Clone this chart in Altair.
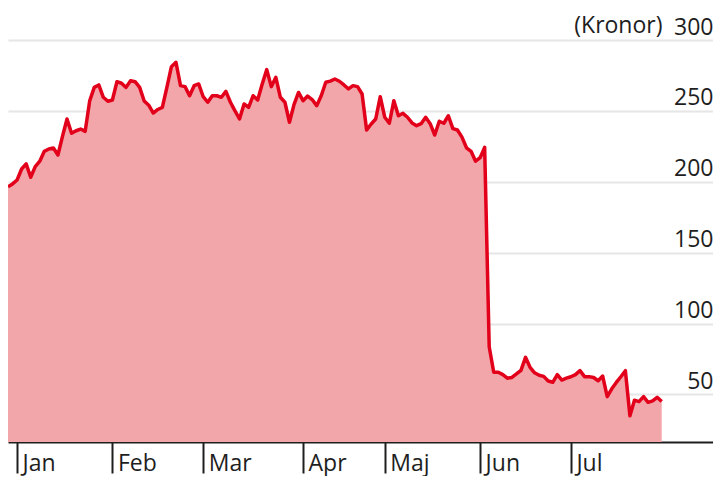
import altair as alt
import pandas as pd

# Trading-day index (0 = first trading day of January) and closing price (SEK)
trading_day = list(range(-2, 143))
price = [
    196.5, 198.5, 201.3, 209.0, 212.6, 203.2, 210.7, 214.5, 221.5, 223.1,
    223.8, 218.9, 232.0, 244.3, 234.2, 236.0, 237.2, 235.6, 257.2, 266.6,
    268.3, 259.6, 256.8, 257.7, 270.6, 269.5, 266.6, 271.3, 270.6, 266.6,
    257.0, 254.0, 248.5, 251.0, 252.5, 266.6, 281.2, 284.3, 267.8, 267.1,
    260.7, 267.8, 269.0, 260.0, 256.1, 260.7, 260.7, 259.6, 263.8, 256.1,
    250.0, 244.3, 254.9, 252.5, 260.7, 257.7, 269.0, 279.1, 267.1, 273.7,
    259.6, 256.1, 242.0, 254.4, 263.0, 257.2, 260.5, 258.0, 253.7, 260.7,
    270.2, 271.0, 272.5, 270.9, 268.3, 265.5, 267.8, 267.1, 261.9, 236.5,
    240.8, 244.3, 260.0, 245.5, 241.3, 257.2, 246.6, 248.3, 245.5, 241.5,
    239.6, 241.0, 245.5, 241.0, 233.0, 242.7, 241.3, 246.6, 237.5, 236.5,
    231.5, 224.0, 221.5, 214.5, 217.0, 224.3, 83.7, 65.7, 65.7, 64.0,
    61.5, 62.0, 64.5, 67.0, 76.2, 69.2, 65.3, 63.6, 62.8, 59.5,
    58.6, 64.0, 60.2, 61.5, 62.5, 64.0, 66.8, 62.6, 62.6, 62.0,
    59.7, 63.0, 48.5, 54.0, 58.5, 62.5, 66.8, 35.0, 46.0, 45.0,
    48.5, 44.5, 45.5, 48.0, 45.0,
]

month_names = ["Jan", "Feb", "Mar", "Apr", "Maj", "Jun", "Jul"]
month_start_day = [0, 21, 41, 63, 81, 102, 122]
y_ticks = [50, 100, 150, 200, 250, 300]

df = pd.DataFrame({"day": trading_day, "price": price})

label_expr = "''"
for name, d in reversed(list(zip(month_names, month_start_day))):
    label_expr = f"datum.value == {d} ? '{name}' : ({label_expr})"

FONT = "Open Sans"
TXT = "#1e1e1e"

x = alt.X(
    "day:Q",
    scale=alt.Scale(domain=[-2, 153.3], nice=False, zero=False),
    axis=alt.Axis(
        values=month_start_day,
        labelExpr=label_expr,
        title=None,
        grid=False,
        domain=True,
        domainColor=TXT,
        domainWidth=2,
        ticks=True,
        tickColor=TXT,
        tickWidth=2,
        tickSize=31,
        labelAlign="left",
        labelBaseline="alphabetic",
        labelPadding=-3,
        labelOffset=5,
        labelFont=FONT,
        labelFontSize=23,
        labelColor=TXT,
        labelFlush=False,
        labelOverlap=False,
    ),
)

y = alt.Y(
    "price:Q",
    scale=alt.Scale(domain=[16.5, 300], nice=False, zero=False),
    axis=alt.Axis(
        orient="right",
        values=y_ticks,
        title="(Kronor)",
        titleAngle=0,
        titleAlign="right",
        titleBaseline="alphabetic",
        titleX=-51,
        titleY=-8,
        titleFont=FONT,
        titleFontSize=23,
        titleFontWeight="normal",
        titleColor=TXT,
        grid=True,
        gridColor="#e6e6e6",
        gridWidth=2,
        domain=False,
        ticks=False,
        tickSize=0,
        labelAlign="right",
        labelBaseline="alphabetic",
        labelPadding=0,
        labelOffset=-6,
        labelFont=FONT,
        labelFontSize=23,
        labelColor=TXT,
        labelOverlap=False,
        labelFlush=False,
    ),
)

base = alt.Chart(df)

area = base.mark_area(color="#f2a6aa", opacity=1, clip=True).encode(
    x=x, y=y, y2=alt.datum(16.5)
)
line = base.mark_line(color="#e2001a", strokeWidth=3.5, strokeJoin="round", clip=True).encode(
    x="day:Q", y="price:Q"
)

chart = (
    alt.layer(area, line)
    .properties(
        width=705,
        height=402,
        autosize=alt.AutoSizeParams(type="none"),
        padding={"left": 0, "top": 32, "right": 0, "bottom": 34},
    )
    .configure_view(stroke=None)
)

chart.save("out.html", embed_options={"renderer": "svg", "actions": False})
